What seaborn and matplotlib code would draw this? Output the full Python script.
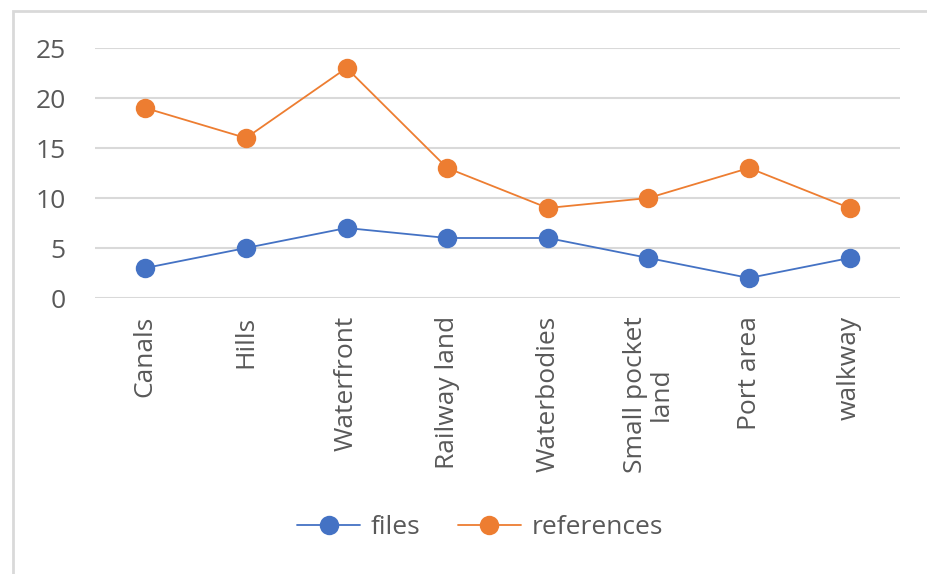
import numpy as np
import pandas as pd
import matplotlib
matplotlib.use("Agg")
import matplotlib.pyplot as plt
import seaborn as sns
from matplotlib.lines import Line2D
from matplotlib.patches import Rectangle

categories = ["Canals", "Hills", "Waterfront", "Railway land", "Waterbodies",
              "Small pocket\nland", "Port area", "walkway"]
files = [3, 5, 7, 6, 6, 4, 2, 4]
references = [19, 16, 23, 13, 9, 10, 13, 9]
series_names = ["files", "references"]
colors = {"files": "#4472C4", "references": "#ED7D31"}

df = pd.DataFrame({
    "category": categories * 2,
    "value": files + references,
    "series": ["files"] * len(files) + ["references"] * len(references),
})

sns.set_style("white")
plt.rcParams["font.family"] = ["Open Sans", "DejaVu Sans"]
text_color = "#595959"
fs = 19

fig = plt.figure(figsize=(9.27, 5.74), dpi=100)
ax = fig.add_axes([95 / 927, 1 - 298 / 574, 805 / 927, 250 / 574])

sns.lineplot(data=df, x="category", y="value", hue="series", palette=colors,
             marker="o", markersize=14, markeredgewidth=0, linewidth=1.3,
             sort=False, legend=False, ax=ax)

ax.set_xlim(-0.5, len(categories) - 0.5)
ax.set_ylim(0, 25)
ax.set_yticks(range(0, 26, 5))
ax.yaxis.grid(True, color="#D9D9D9", linewidth=1.5)
ax.set_axisbelow(True)
for s in ax.spines.values():
    s.set_visible(False)
ax.set_xlabel("")
ax.set_ylabel("")
ax.tick_params(axis="both", length=0, labelsize=fs, labelcolor=text_color)
ax.tick_params(axis="y", pad=21)
ax.tick_params(axis="x", pad=13)
ax.set_xticks(range(len(categories)))
ax.set_xticklabels(categories, rotation=90, ha="center", va="top",
                   multialignment="center", linespacing=1.0)

handles = [Line2D([], [], color=colors[n], marker="o", markersize=14,
                  markeredgewidth=0, linewidth=1.3) for n in series_names]
fig.legend(handles, series_names, loc="center", bbox_to_anchor=(480 / 927, 1 - 528 / 574),
           ncol=2, frameon=False, fontsize=fs, labelcolor=text_color,
           handlelength=2.4, columnspacing=1.4, handletextpad=0.4)

fig.patches.append(Rectangle((13 / 927, -0.1), 1.2, 1 - 11 / 574 + 0.1,
                             transform=fig.transFigure, fill=False,
                             edgecolor="#D9D9D9", linewidth=2))

fig.savefig("out.png", dpi=100)
